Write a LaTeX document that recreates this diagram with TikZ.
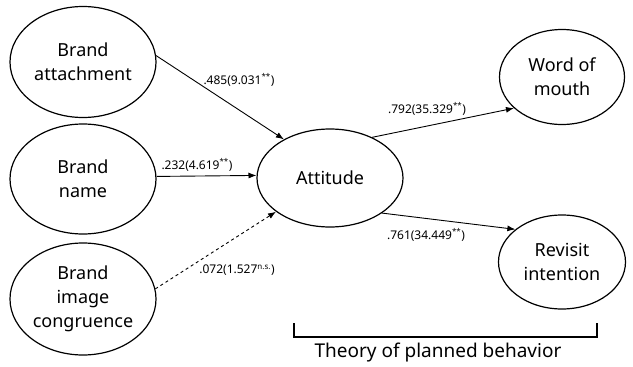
\documentclass[tikz,border=0pt]{standalone}
\usepackage{fontspec}
\setmainfont{Noto Sans}
\usetikzlibrary{shapes.geometric,arrows.meta}
\begin{document}
\begin{tikzpicture}[x=1pt,y=-1pt,
  ov/.style={draw,ellipse,line width=1.2pt,font=\fontsize{18}{24}\selectfont,align=center,inner sep=0pt},
  conn/.style={line width=0.9pt,-{Latex[length=8pt,width=6pt]}},
  lab/.style={font=\fontsize{12}{14}\selectfont,inner sep=1pt}]
\useasboundingbox (0,0) rectangle (633,367);
\node[ov,minimum width=146pt,minimum height=111pt] (ba) at (83,62) {Brand\\attachment};
\node[ov,minimum width=146pt,minimum height=110pt] (bn) at (83,179) {Brand\\name};
\node[ov,minimum width=146pt,minimum height=112pt] (bi) at (83,299) {Brand\\image\\congruence};
\node[ov,minimum width=146pt,minimum height=98pt] (at) at (330,178) {Attitude};
\node[ov,minimum width=125pt,minimum height=95pt] (wm) at (562,77) {Word of\\mouth};
\node[ov,minimum width=127pt,minimum height=94pt] (rv) at (562,262) {Revisit\\intention};
\draw[conn] (ba.5) -- (at.140);
\draw[conn] (bn.2) -- (at.178);
\draw[conn,dashed] (bi.8) -- (at.212);
\draw[conn] (at.44) -- (wm.213);
\draw[conn] (at.-34) -- (rv.145);
\node[lab] (l1) at (239,80) {.485(9.031\textsuperscript{**})};
\node[lab] (l2) at (197,165) {.232(4.619\textsuperscript{**})};
\node[lab] (l3) at (237,270) {.072(1.527\textsuperscript{n.s.})};
\node[lab] (l4) at (427,109) {.792(35.329\textsuperscript{**})};
\node[lab] (l5) at (426,235) {.761(34.449\textsuperscript{**})};
\coordinate (b1) at (294,323);
\coordinate (b2) at (294,337);
\coordinate (b3) at (597,337);
\coordinate (b4) at (597,323);
\draw[line width=1.2pt] (b1) -- (b2) -- (b3) -- (b4);
\node[font=\fontsize{19}{22}\selectfont] (tp) at (438,353) {Theory of planned behavior};
\end{tikzpicture}
\end{document}
